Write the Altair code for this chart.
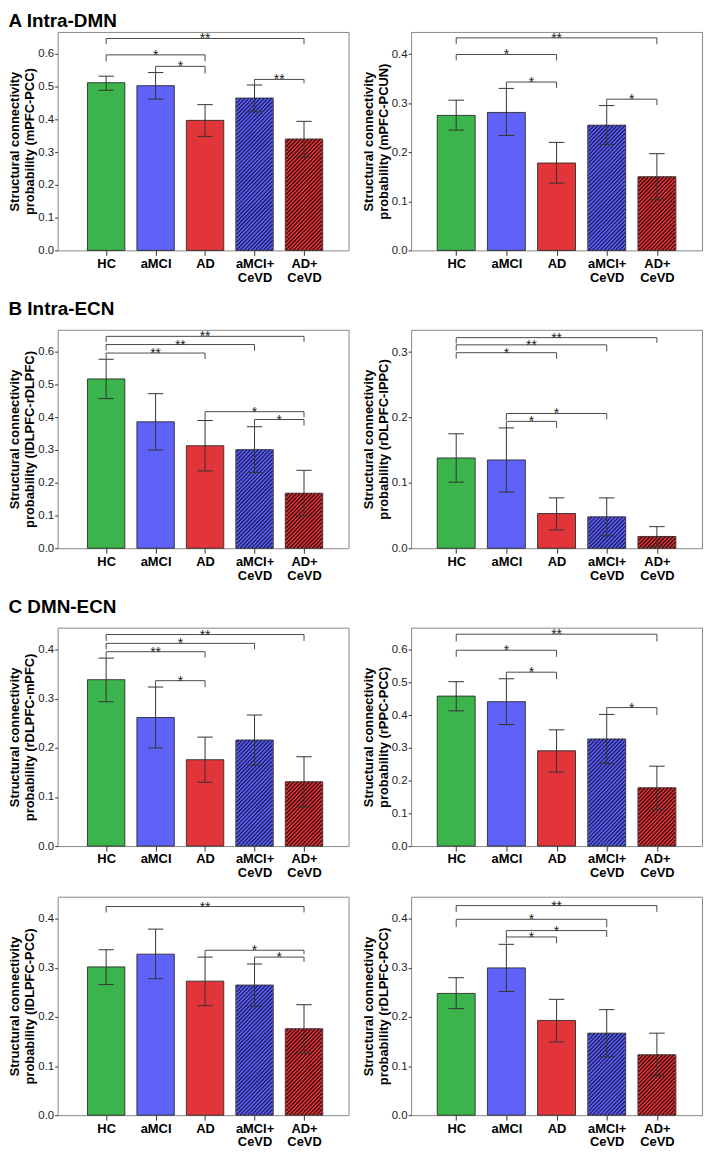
import json
import altair as alt
import pandas as pd

FONT = "Liberation Sans"

GROUPS = ["HC", "aMCI", "AD", "aMCI+\nCeVD", "AD+\nCeVD"]
FILLS = ["#3bb44b", "#5f62f8", "#e2353a", "#5f62f8", "#e2353a"]
HATCHED = [False, False, False, True, True]
HATCH_INK = ["", "", "", "#1c1c5c", "#3a0a0c"]

# ---- A: Intra-DMN ----
A1_LABEL = "probability (mPFC-PCC)"
A1_MEAN = [0.512, 0.503, 0.397, 0.465, 0.340]
A1_LO = [0.489, 0.462, 0.348, 0.423, 0.285]
A1_HI = [0.532, 0.543, 0.445, 0.505, 0.394]
A1_BRACKETS = [(0, 4, 0.647, 0.630, 0.630, "**"), (0, 2, 0.597, 0.577, 0.577, "*"),
               (1, 2, 0.562, 0.543, 0.540, "*"), (3, 4, 0.522, 0.505, 0.510, "**")]

A2_LABEL = "probability (mPFC-PCUN)"
A2_MEAN = [0.275, 0.281, 0.178, 0.255, 0.150]
A2_LO = [0.245, 0.234, 0.137, 0.216, 0.103]
A2_HI = [0.306, 0.330, 0.220, 0.295, 0.197]
A2_BRACKETS = [(0, 4, 0.433, 0.420, 0.420, "**"), (0, 2, 0.399, 0.387, 0.387, "*"),
               (1, 2, 0.343, 0.330, 0.331, "*"), (3, 4, 0.308, 0.296, 0.296, "*")]

# ---- B: Intra-ECN ----
B1_LABEL = "probability (lDLPFC-rDLPFC)"
B1_MEAN = [0.517, 0.386, 0.313, 0.301, 0.168]
B1_LO = [0.457, 0.300, 0.236, 0.231, 0.099]
B1_HI = [0.577, 0.472, 0.390, 0.371, 0.238]
B1_BRACKETS = [(0, 4, 0.647, 0.630, 0.630, "**"), (0, 3, 0.622, 0.604, 0.603, "**"),
               (0, 2, 0.596, 0.578, 0.578, "**"), (2, 4, 0.417, 0.390, 0.400, "*"),
               (3, 4, 0.393, 0.371, 0.375, "*")]

B2_LABEL = "probability (rDLPFC-lPPC)"
B2_MEAN = [0.138, 0.135, 0.053, 0.048, 0.018]
B2_LO = [0.101, 0.086, 0.028, 0.019, 0.003]
B2_HI = [0.175, 0.184, 0.077, 0.077, 0.033]
B2_BRACKETS = [(0, 4, 0.322, 0.313, 0.314, "**"), (0, 3, 0.311, 0.302, 0.301, "**"),
               (0, 2, 0.299, 0.290, 0.290, "*"), (1, 3, 0.206, 0.196, 0.197, "*"),
               (1, 2, 0.194, 0.184, 0.184, "*")]

# ---- C: DMN-ECN ----
C1_LABEL = "probability (rDLPFC-mPFC)"
C1_MEAN = [0.339, 0.262, 0.176, 0.216, 0.131]
C1_LO = [0.294, 0.200, 0.130, 0.165, 0.080]
C1_HI = [0.383, 0.324, 0.222, 0.267, 0.182]
C1_BRACKETS = [(0, 4, 0.431, 0.418, 0.418, "**"), (0, 3, 0.413, 0.401, 0.401, "*"),
               (0, 2, 0.396, 0.384, 0.384, "**"), (1, 2, 0.337, 0.324, 0.324, "*")]

C2_LABEL = "probability (rPPC-PCC)"
C2_MEAN = [0.458, 0.441, 0.291, 0.327, 0.178]
C2_LO = [0.413, 0.371, 0.226, 0.252, 0.111]
C2_HI = [0.502, 0.511, 0.355, 0.402, 0.244]
C2_BRACKETS = [(0, 4, 0.647, 0.625, 0.625, "**"), (0, 2, 0.598, 0.578, 0.578, "*"),
               (1, 2, 0.531, 0.511, 0.510, "*"), (3, 4, 0.423, 0.402, 0.400, "*")]

C3_LABEL = "probability (lDLPFC-PCC)"
C3_MEAN = [0.302, 0.328, 0.273, 0.265, 0.176]
C3_LO = [0.266, 0.278, 0.223, 0.222, 0.126]
C3_HI = [0.337, 0.379, 0.322, 0.308, 0.225]
C3_BRACKETS = [(0, 4, 0.425, 0.413, 0.413, "**"), (2, 4, 0.336, 0.322, 0.328, "*"),
               (3, 4, 0.322, 0.307, 0.312, "*")]

C4_LABEL = "probability (rDLPFC-PCC)"
C4_MEAN = [0.248, 0.300, 0.193, 0.167, 0.123]
C4_LO = [0.217, 0.252, 0.149, 0.119, 0.080]
C4_HI = [0.280, 0.348, 0.236, 0.215, 0.167]
C4_BRACKETS = [(0, 4, 0.427, 0.414, 0.414, "**"), (0, 3, 0.399, 0.383, 0.383, "*"),
               (1, 3, 0.376, 0.363, 0.363, "*"), (1, 2, 0.363, 0.350, 0.350, "*")]

YMAX_6 = 0.667
YMAX_4 = 0.445
YMAX_3 = 0.334
TICKS_6 = [0.0, 0.1, 0.2, 0.3, 0.4, 0.5, 0.6]
TICKS_4 = [0.0, 0.1, 0.2, 0.3, 0.4]
TICKS_3 = [0.0, 0.1, 0.2, 0.3]

W = 293
H = 220
XDOM_L = [-0.88, 4.8]
XDOM_R = [-0.8, 4.8]
BAR_FRAC = 0.73
CAP_HALF = 0.155
HATCH_STEP = 4.0

LABELS_JS = json.dumps([g.split("\n") for g in GROUPS])


def xenc(field, xdom):
    return alt.X(
        f"{field}:Q",
        scale=alt.Scale(domain=xdom, nice=False, zero=False),
        axis=alt.Axis(
            values=[0, 1, 2, 3, 4], labelExpr=f"{LABELS_JS}[round(datum.value)]",
            title=None, grid=False, domain=False, tickSize=5, tickColor="#333",
            labelFont=FONT, labelFontSize=13, labelFontWeight="bold", labelColor="#000",
            labelPadding=2, labelOverlap=False, labelFlush=False, labelLineHeight=14,
            labelBaseline="top",
        ),
    )


def yenc(field, ymax, ticks, label):
    return alt.Y(
        f"{field}:Q",
        scale=alt.Scale(domain=[0, ymax], nice=False, zero=False),
        axis=alt.Axis(
            values=ticks, format=".1f", title=["Structural connectivity", label],
            titleFont=FONT, titleFontSize=13, titleFontWeight="bold", titleColor="#000",
            titleLineHeight=15, titlePadding=1, labelFont=FONT, labelFontSize=11.5,
            labelColor="#222", tickSize=3, tickColor="#333", grid=False, domain=False,
            labelPadding=1,
        ),
    )


def panel(label, mean, lo, hi, brackets, ymax, ticks, xdom):
    kx = W / (xdom[1] - xdom[0])
    ky = H / ymax
    bar_px = BAR_FRAC * kx

    bars_df = pd.DataFrame({"x": list(range(5)), "mean": mean, "fill": FILLS})

    # hatch lines for the CeVD bars
    hrows = []
    for i in range(5):
        if not HATCHED[i]:
            continue
        hp = mean[i] * ky
        left = i - BAR_FRAC / 2
        c = -bar_px + HATCH_STEP / 2
        while c < hp:
            p0 = max(0.0, -c)
            p1 = min(bar_px, hp - c)
            if p1 > p0:
                hrows.append({"x": left + p0 / kx, "x2": left + p1 / kx,
                              "y": (p0 + c) / ky, "y2": (p1 + c) / ky,
                              "ink": HATCH_INK[i]})
            c += HATCH_STEP
    hatch_df = pd.DataFrame(hrows)

    # error bars and caps
    srows = []
    for i in range(5):
        srows.append({"x": i, "x2": i, "y": lo[i], "y2": hi[i], "col": "#333333"})
        srows.append({"x": i - CAP_HALF, "x2": i + CAP_HALF, "y": lo[i], "y2": lo[i], "col": "#333333"})
        srows.append({"x": i - CAP_HALF, "x2": i + CAP_HALF, "y": hi[i], "y2": hi[i], "col": "#333333"})
    # significance brackets
    trows = []
    for a, b, yy, yl, yr, txt in brackets:
        srows.append({"x": a, "x2": b, "y": yy, "y2": yy, "col": "#4a4a4a"})
        srows.append({"x": a, "x2": a, "y": yl, "y2": yy, "col": "#4a4a4a"})
        srows.append({"x": b, "x2": b, "y": yr, "y2": yy, "col": "#4a4a4a"})
        trows.append({"x": (a + b) / 2, "y": yy, "txt": txt})
    seg_df = pd.DataFrame(srows)
    txt_df = pd.DataFrame(trows)

    X = lambda f: xenc(f, xdom)
    Y = lambda f: yenc(f, ymax, ticks, label)

    bars = alt.Chart(bars_df).mark_bar(size=bar_px, orient="vertical").encode(
        x=X("x"), y=Y("mean"), y2=alt.datum(0), color=alt.Color("fill:N", scale=None)
    )
    hatch = alt.Chart(hatch_df).mark_rule(strokeWidth=1.3).encode(
        x=X("x"), x2="x2", y=Y("y"), y2="y2", color=alt.Color("ink:N", scale=None)
    )
    outline = alt.Chart(bars_df).mark_bar(
        size=bar_px, orient="vertical", fillOpacity=0, stroke="#2b2b2b", strokeWidth=0.9
    ).encode(x=X("x"), y=Y("mean"), y2=alt.datum(0))
    segs = alt.Chart(seg_df).mark_rule(strokeWidth=1).encode(
        x=X("x"), x2="x2", y=Y("y"), y2="y2", color=alt.Color("col:N", scale=None)
    )
    stars = alt.Chart(txt_df).mark_text(
        font=FONT, fontSize=14, color="#222", baseline="alphabetic", dy=5
    ).encode(x=X("x"), y=Y("y"), text="txt:N")

    return alt.layer(bars, hatch, outline, segs, stars).properties(width=W, height=H)


def title(text, offset):
    return alt.TitleParams(text, anchor="start", font=FONT, fontSize=19,
                           fontWeight="bold", color="#000", offset=offset)


row1 = alt.hconcat(
    panel(A1_LABEL, A1_MEAN, A1_LO, A1_HI, A1_BRACKETS, YMAX_6, TICKS_6, XDOM_L),
    panel(A2_LABEL, A2_MEAN, A2_LO, A2_HI, A2_BRACKETS, YMAX_4, TICKS_4, XDOM_R),
    spacing=12,
).properties(title=title("A  Intra-DMN", 0))

row2 = alt.hconcat(
    panel(B1_LABEL, B1_MEAN, B1_LO, B1_HI, B1_BRACKETS, YMAX_6, TICKS_6, XDOM_L),
    panel(B2_LABEL, B2_MEAN, B2_LO, B2_HI, B2_BRACKETS, YMAX_3, TICKS_3, XDOM_R),
    spacing=12,
).properties(title=title("B  Intra-ECN", 10))

row3 = alt.hconcat(
    panel(C1_LABEL, C1_MEAN, C1_LO, C1_HI, C1_BRACKETS, YMAX_4, TICKS_4, XDOM_L),
    panel(C2_LABEL, C2_MEAN, C2_LO, C2_HI, C2_BRACKETS, YMAX_6, TICKS_6, XDOM_R),
    spacing=12,
).properties(title=title("C  DMN-ECN", 10))

row4 = alt.hconcat(
    panel(C3_LABEL, C3_MEAN, C3_LO, C3_HI, C3_BRACKETS, YMAX_4, TICKS_4, XDOM_L),
    panel(C4_LABEL, C4_MEAN, C4_LO, C4_HI, C4_BRACKETS, YMAX_4, TICKS_4, XDOM_R),
    spacing=12,
)

chart = (
    alt.vconcat(row1, row2, row3, row4, spacing=15)
    .properties(padding=0, background="white")
    .configure_view(stroke="#888888", strokeWidth=1)
    .configure_text(font=FONT)
)

chart.save("out.html", embed_options={"renderer": "svg", "actions": False})
